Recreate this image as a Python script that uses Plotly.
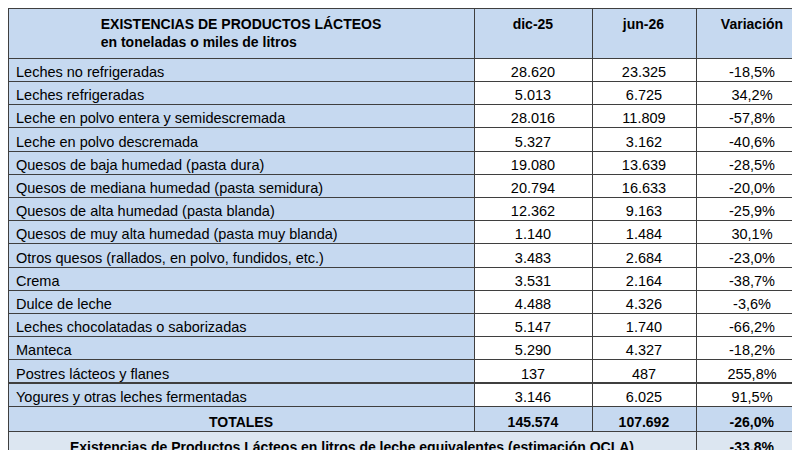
import plotly.graph_objects as go

productos = [
    "Leches no refrigeradas", "Leches refrigeradas",
    "Leche en polvo entera y semidescremada", "Leche en polvo descremada",
    "Quesos de baja humedad (pasta dura)", "Quesos de mediana humedad (pasta semidura)",
    "Quesos de alta humedad (pasta blanda)", "Quesos de muy alta humedad (pasta muy blanda)",
    "Otros quesos (rallados, en polvo, fundidos, etc.)", "Crema", "Dulce de leche",
    "Leches chocolatadas o saborizadas", "Manteca", "Postres lácteos y flanes",
    "Yogures y otras leches fermentadas",
]
dic25 = ["28.620", "5.013", "28.016", "5.327", "19.080", "20.794", "12.362", "1.140",
         "3.483", "3.531", "4.488", "5.147", "5.290", "137", "3.146"]
jun26 = ["23.325", "6.725", "11.809", "3.162", "13.639", "16.633", "9.163", "1.484",
         "2.684", "2.164", "4.326", "1.740", "4.327", "487", "6.025"]
variacion = ["-18,5%", "34,2%", "-57,8%", "-40,6%", "-28,5%", "-20,0%", "-25,9%", "30,1%",
             "-23,0%", "-38,7%", "-3,6%", "-66,2%", "-18,2%", "255,8%", "91,5%"]
totales = ["TOTALES", "145.574", "107.692", "-26,0%"]
equiv_label = "Existencias de Productos Lácteos en litros de leche equivalentes (estimación OCLA)"
equiv_valor = "-33,8%"

BLUE = "#c6d9f0"
LIGHT = "#dce6f1"
LINE = "#3f3f3f"
FONT = "Liberation Sans"
widths = [466, 118, 104, 112]

fig = go.Figure()
# main body
fig.add_trace(go.Table(
    domain=dict(x=[0, 1], y=[52 / 450, 1]),
    columnwidth=widths,
    header=dict(
        values=["<b>EXISTENCIAS DE PRODUCTOS LÁCTEOS<br>en toneladas o miles de litros</b>",
                "<b>dic-25</b>", "<b>jun-26</b>", "<b>Variación</b>"],
        fill_color=BLUE, line=dict(color=LINE, width=1), align="center",
        font=dict(family=FONT, size=14, color="black"), height=50,
    ),
    cells=dict(
        values=[productos, dic25, jun26, variacion],
        fill_color=[BLUE, "white", "white", "white"],
        align=["left", "center", "center", "center"],
        line=dict(color=LINE, width=1),
        font=dict(family=FONT, size=14.5, color="black"), height=23.2,
    ),
))
# totals row
fig.add_trace(go.Table(
    domain=dict(x=[0, 1], y=[27 / 450, 52 / 450]),
    columnwidth=widths,
    header=dict(
        values=["<b>%s</b>" % t for t in totales],
        fill_color=BLUE, line=dict(color=LINE, width=1), align="center",
        font=dict(family=FONT, size=14, color="black"), height=25,
    ),
    cells=dict(values=[[], [], [], []]),
))
# milk-equivalent row
fig.add_trace(go.Table(
    domain=dict(x=[0, 1], y=[0, 27 / 450]),
    columnwidth=[688, 112],
    header=dict(
        values=["<b>%s</b>" % equiv_label, "<b>%s</b>" % equiv_valor],
        fill_color=LIGHT, line=dict(color=LINE, width=1), align="center",
        font=dict(family=FONT, size=14, color="black"), height=27,
    ),
    cells=dict(values=[[], []]),
))
fig.update_layout(width=800, height=450, margin=dict(l=0, r=0, t=0, b=0),
                  paper_bgcolor="white")
fig.write_html("out.html")
